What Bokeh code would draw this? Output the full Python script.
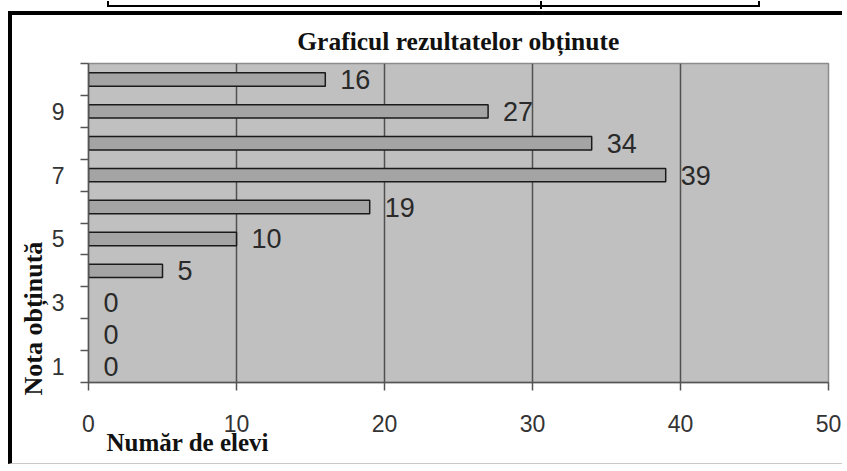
from bokeh.plotting import figure
from bokeh.models import Range1d, FixedTicker, Title, Div
from bokeh.layouts import column
from bokeh.embed import file_html
from bokeh.resources import INLINE
from bokeh.core.properties import value

# ---- data ----
note = [1, 2, 3, 4, 5, 6, 7, 8, 9, 10]
elevi = [0, 0, 0, 5, 10, 19, 39, 34, 27, 16]
x_ticks = [0, 10, 20, 30, 40, 50]
y_tick_labels = [1, 3, 5, 7, 9]
title_text = "Graficul rezultatelor obținute"
x_label = "Număr de elevi"
y_label = "Nota obținută"

p = figure(width=834, height=453, output_backend="svg", toolbar_location=None,
           x_range=Range1d(0, 50), y_range=Range1d(0.5, 10.5),
           min_border_left=76, min_border_right=18, min_border_top=48,
           min_border_bottom=86)
p.styles = {"margin-left": "8px", "border-left": "4px solid black",
            "border-top": "4px solid black", "border-bottom": "1px solid #c8c8c8"}

p.background_fill_color = "#c0c0c0"
p.border_fill_color = "white"
p.outline_line_color = "#8c8c8c"
p.outline_line_width = 1.5

# bars (only non-zero ones are visible)
bar_y = [n for n, v in zip(note, elevi) if v > 0]
bar_v = [v for v in elevi if v > 0]
p.hbar(y=bar_y, left=0, right=bar_v, height=0.42, fill_color="#a4a4a4",
       line_color="#1a1a1a", line_width=1.5)

p.text(x=elevi, y=note, text=[str(v) for v in elevi], x_offset=15,
       text_baseline="middle", text_align="left",
       text_font=value("Liberation Sans"), text_font_size="27px",
       text_color="#2a2a2a")

# x axis
xa = p.xaxis[0]
xa.ticker = FixedTicker(ticks=x_ticks)
xa.major_tick_out = 8
xa.major_tick_in = 0
xa.minor_tick_out = 0
xa.minor_tick_in = 0
xa.axis_line_color = "#555555"
xa.axis_line_width = 1.5
xa.major_tick_line_color = "#555555"
xa.major_tick_line_width = 1.5
xa.major_label_text_font = "Liberation Sans"
xa.major_label_text_font_size = "23px"
xa.major_label_text_color = "#333333"
xa.major_label_standoff = 24

# y axis
ya = p.yaxis[0]
minor = [n - 0.5 for n in note] + [note[-1] + 0.5]
ya.ticker = FixedTicker(ticks=y_tick_labels, minor_ticks=minor)
ya.major_tick_out = 0
ya.major_tick_in = 0
ya.minor_tick_out = 8
ya.minor_tick_in = 0
ya.minor_tick_line_color = "#555555"
ya.minor_tick_line_width = 1.5
ya.axis_line_color = "#555555"
ya.axis_line_width = 1.5
ya.major_label_text_font = "Liberation Sans"
ya.major_label_text_font_size = "23px"
ya.major_label_text_color = "#333333"
ya.major_label_standoff = 16

p.ygrid.visible = False
p.xgrid.ticker = FixedTicker(ticks=x_ticks[1:-1])
p.xgrid.grid_line_color = "#505050"
p.xgrid.grid_line_width = 1.5

# titles
p.title.text = title_text
p.title.align = "center"
p.title.text_font = "Liberation Serif"
p.title.text_font_style = "bold"
p.title.text_font_size = "25.5px"
p.title.text_color = "#111111"
p.title.standoff = 15

p.add_layout(Title(text=x_label, align="left", offset=18, standoff=-16,
                   text_font="Liberation Serif", text_font_style="bold",
                   text_font_size="25px", text_color="#111111"), "below")
p.add_layout(Title(text=y_label, align="left", offset=-13, standoff=2,
                   text_font="Liberation Serif", text_font_style="bold",
                   text_font_size="26px", text_color="#111111"), "left")

# fragment of the table above the chart
top_html = (
    '<div style="position:relative;width:846px;height:11px;">'
    '<div style="position:absolute;left:107px;top:0;width:653px;height:6px;'
    'border-left:2px solid black;border-right:2px solid black;'
    'border-bottom:2px solid black;"></div>'
    '<div style="position:absolute;left:540px;top:0;width:2px;height:8px;'
    'background:black;"></div></div>'
)
top = Div(text=top_html, width=846, height=11, margin=0)

layout = column(top, p, spacing=0)
open("out.html", "w").write(file_html(layout, INLINE))
